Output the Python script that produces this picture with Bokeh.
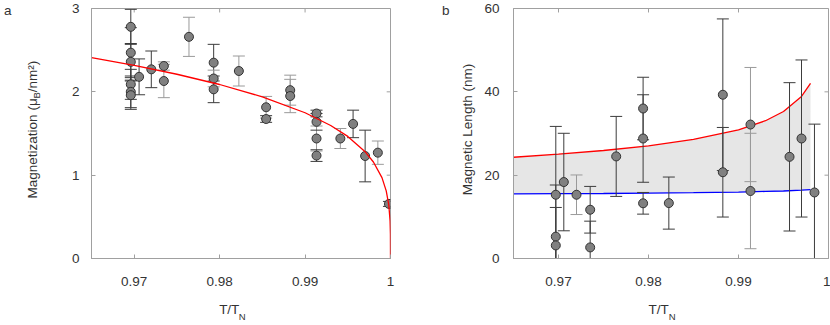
from bokeh.plotting import figure
from bokeh.layouts import row
from bokeh.models import (LinearAxis, Range1d, FixedTicker, ColumnDataSource,
                          CustomJSTickFormatter)
from bokeh.embed import file_html
from bokeh.resources import INLINE

# ---------------- data: panel a (magnetization) ----------------
mag_T = [0.9696, 0.9696, 0.9696, 0.9696, 0.9696, 0.9696,
         0.97057, 0.9720, 0.97347, 0.97347, 0.97641,
         0.9793, 0.9793, 0.9793, 0.98225, 0.98544, 0.98544,
         0.98826, 0.98826, 0.99134, 0.99134, 0.99134, 0.99134,
         0.99413, 0.99562, 0.99703, 0.99852, 0.99982]
mag_M = [2.78, 2.47, 2.36, 2.09, 2.00, 1.96,
         2.18, 2.27, 2.31, 2.13, 2.66,
         2.35, 2.16, 2.03, 2.25, 1.815, 1.674,
         2.02, 1.95, 1.74, 1.64, 1.44, 1.235,
         1.44, 1.615, 1.23, 1.27, 0.655]
mag_err = [0.21, 0.30, 0.22, 0.18, 0.19, 0.17,
           0.215, 0.22, 0.05, 0.20, 0.235,
           0.22, 0.10, 0.16, 0.18, 0.13, 0.04,
           0.18, 0.20, 0.04, 0.10, 0.15, 0.07,
           0.12, 0.165, 0.31, 0.14, 0.03]
mag_series = [1, 1, 1, 1, 1, 1,
              1, 1, 2, 2, 2,
              1, 2, 1, 2, 2, 1,
              2, 2, 1, 1, 2, 1,
              2, 1, 1, 2, 1]

mag_fit_T = [0.965, 0.970, 0.975, 0.980, 0.985, 0.990, 0.993, 0.995,
             0.997, 0.998, 0.999, 0.9995, 0.9998, 0.99995, 0.99999, 1.0]
mag_fit_M = [2.41, 2.317, 2.211, 2.088, 1.940, 1.749, 1.596, 1.465,
             1.285, 1.158, 0.970, 0.812, 0.642, 0.451, 0.298, 0.0]

# ---------------- data: panel b (magnetic length) ----------------
len_T = [0.9697, 0.9697, 0.9697, 0.97059, 0.9720, 0.97352, 0.97352,
         0.97641, 0.9794, 0.9794, 0.9794, 0.98226, 0.98826, 0.98826,
         0.99133, 0.99133, 0.99567, 0.99700, 0.99844]
len_L = [15.3, 5.25, 3.14, 18.35, 15.3, 11.7, 2.66,
         24.5, 36.0, 28.8, 13.25, 13.3, 39.3, 20.7,
         32.15, 16.2, 24.4, 28.8, 15.85]
len_err = [16.4, 7.0, 14.5, 11.7, 4.75, 5.6, 6.3,
           9.6, 7.5, 10.5, 2.6, 6.25, 18.2, 10.75,
           13.7, 13.85, 17.8, 18.85, 16.4]
len_series = [1, 1, 1, 1, 2, 1, 1,
              1, 1, 1, 1, 1, 1, 1,
              2, 2, 1, 1, 1]

band_T = [0.965, 0.970, 0.975, 0.980, 0.985, 0.990, 0.993, 0.995, 0.997, 0.998]
band_upper = [24.3, 25.03, 25.92, 27.05, 28.58, 30.89, 33.07, 35.27, 38.90, 42.04]
band_lower = [15.5, 15.55, 15.6, 15.7, 15.8, 15.95, 16.1, 16.2, 16.4, 16.55]

# ---------------- ticks and texts ----------------
x_tick_values = [0.97, 0.98, 0.99, 1]
x_tick_labels = ["0.97", "0.98", "0.99", "1"]
mag_y_ticks = [0, 1, 2, 3]
len_y_ticks = [0, 20, 40, 60]
x_label_main = "T/T"
x_label_sub = "N"
mag_label_parts = ["Magnetization (μ", "/nm²)"]
mag_label_sub = "B"
len_label = "Magnetic Length (nm)"

# ---------------- style ----------------
FONT = "Liberation Sans"
FS = "13.5px"
FS_SUB = "9.5px"
TXT = "#333333"
FRAME = "#a0a0a0"
BAR_COLORS = {1: "#3c3c3c", 2: "#9a9a9a"}
H = 324
TOP = 8
BOTTOM = 65
FRAME_H = H - TOP - BOTTOM
FRAME_BOTTOM = H - BOTTOM
X0, X1 = 0.965, 1.0


def page_y(py, ymax):
    """data y for a pixel row of the picture"""
    return (FRAME_BOTTOM - py) * ymax / FRAME_H


def make_fig(width, left, frame_w, ymax):
    p = figure(width=width, height=H, x_range=Range1d(X0, X1), y_range=Range1d(0, ymax),
               x_axis_location=None, y_axis_location=None,
               min_border_left=left, min_border_right=width - left - frame_w,
               min_border_top=TOP, min_border_bottom=BOTTOM,
               output_backend="svg", toolbar_location=None)
    p.grid.visible = False
    p.outline_line_color = FRAME
    p.outline_line_width = 1
    return p


def main_axes(p, yticks, ystandoff, frame_w, ymax):
    common = dict(axis_line_color=FRAME, major_tick_line_color=FRAME,
                  major_tick_in=4, major_tick_out=0,
                  minor_tick_in=0, minor_tick_out=0,
                  major_label_text_font=FONT, major_label_text_font_size=FS,
                  major_label_text_color=TXT)
    xb = LinearAxis(ticker=FixedTicker(ticks=x_tick_values, minor_ticks=[]),
                    formatter=CustomJSTickFormatter(args=dict(labels=x_tick_labels),
                                                    code="return labels[index]"),
                    major_label_standoff=18, **common)
    p.add_layout(xb, "below")
    yl = LinearAxis(ticker=FixedTicker(ticks=yticks, minor_ticks=[]),
                    major_label_standoff=ystandoff, **common)
    p.add_layout(yl, "left")
    # inward ticks on the top and right edges of the box
    dy = 4 * ymax / FRAME_H
    dx = 4 * (X1 - X0) / frame_w
    p.segment(x0=x_tick_values, y0=[ymax] * len(x_tick_values),
              x1=x_tick_values, y1=[ymax - dy] * len(x_tick_values),
              line_color=FRAME, line_width=1)
    p.segment(x0=[X1] * len(yticks), y0=yticks, x1=[X1 - dx] * len(yticks), y1=yticks,
              line_color=FRAME, line_width=1)


def label_axis(p, side, ticks, labels, size, standoff, orient="horizontal"):
    ax = LinearAxis(ticker=FixedTicker(ticks=ticks, minor_ticks=[]),
                    formatter=CustomJSTickFormatter(args=dict(labels=labels),
                                                    code="return labels[index]"),
                    axis_line_color=None, major_tick_line_color=None,
                    minor_tick_line_color=None,
                    major_tick_in=0, major_tick_out=0, minor_tick_in=0, minor_tick_out=0,
                    major_label_standoff=standoff, major_label_text_font=FONT,
                    major_label_text_font_size=size, major_label_text_color=TXT,
                    major_label_orientation=orient)
    p.add_layout(ax, side)


def errorbars(p, T, V, E, S):
    lo = [v - e for v, e in zip(V, E)]
    hi = [v + e for v, e in zip(V, E)]
    col = [BAR_COLORS[s] for s in S]
    src = ColumnDataSource(dict(x=T, v=V, lo=lo, hi=hi, c=col))
    p.segment(x0="x", y0="lo", x1="x", y1="hi", source=src, line_color="c", line_width=1)
    p.scatter(x="x", y="lo", source=src, marker="dash", size=12, line_color="c", line_width=1)
    p.scatter(x="x", y="hi", source=src, marker="dash", size=12, line_color="c", line_width=1)
    p.scatter(x="x", y="v", source=src, marker="circle", size=9,
              fill_color="#808080", line_color="#333333", line_width=1)


# x position of the pieces of the x-axis title
x_lab_c = 0.98 + 10.1 * (X1 - X0) / 314
x_sub_c = 0.98 + 23.6 * (X1 - X0) / 314

# ---------------- panel a ----------------
FW_A = 314
pa = make_fig(420, 76, FW_A, 3)
main_axes(pa, mag_y_ticks, 12, FW_A, 3)
errorbars(pa, mag_T, mag_M, mag_err, mag_series)
pa.line(mag_fit_T, mag_fit_M, line_color="#ff0000", line_width=1.3)
label_axis(pa, "below", [x_lab_c], [x_label_main], FS, 13)
label_axis(pa, "below", [x_sub_c], [x_label_sub], FS_SUB, -9)
bottom_py = 198.5               # picture row where the rotated title starts
w1, wB, w3 = 100.1, 6.3, 31.5
ya1 = page_y(bottom_py - w1 / 2, 3)
yaB = page_y(bottom_py - w1 - wB / 2, 3)
ya3 = page_y(bottom_py - w1 - wB - w3 / 2, 3)
label_axis(pa, "left", [ya1, ya3], mag_label_parts, FS, 28, "vertical")
label_axis(pa, "left", [yaB], [mag_label_sub], FS_SUB, -20, "vertical")
label_axis(pa, "left", [page_y(10, 3)], ["a"], FS, 11)

# ---------------- panel b ----------------
FW_B = 315
pb = make_fig(410, 93, FW_B, 60)
main_axes(pb, len_y_ticks, 14, FW_B, 60)
pb.varea(x=band_T, y1=band_lower, y2=band_upper, fill_color="#e6e6e6")
pb.line(band_T, band_upper, line_color="#ff0000", line_width=1.3)
pb.line(band_T, band_lower, line_color="#0000ff", line_width=1.3)
errorbars(pb, len_T, len_L, len_err, len_series)
label_axis(pb, "below", [x_lab_c], [x_label_main], FS, 13)
label_axis(pb, "below", [x_sub_c], [x_label_sub], FS_SUB, -9)
label_axis(pb, "left", [page_y(129.5, 60)], [len_label], FS, 6, "vertical")
label_axis(pb, "left", [page_y(10, 60)], ["b"], FS, 8)

layout = row(pa, pb)
open("out.html", "w").write(file_html(layout, INLINE))
